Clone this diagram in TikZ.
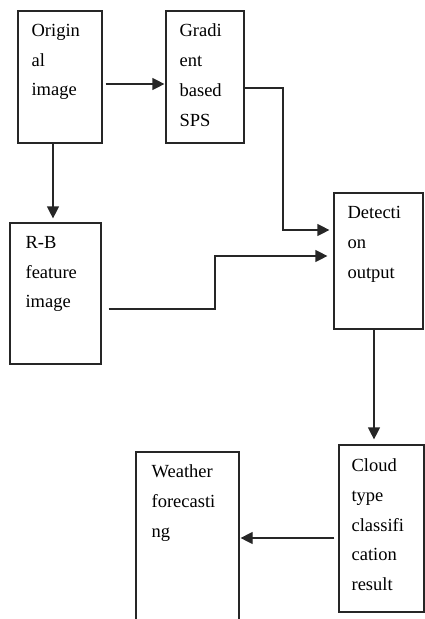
\documentclass[tikz,border=0pt]{standalone}
\usepackage{fontspec}
\setmainfont{Liberation Serif}
\usetikzlibrary{arrows.meta,calc}
\begin{document}
\begin{tikzpicture}[x=1pt,y=-1pt,
  box/.style={draw=black!85,line width=1.2pt,rectangle,inner sep=0pt},
  txt/.style={anchor=north west,inner sep=0pt,align=left,
    font=\fontsize{18.5}{29.8}\selectfont},
  conn/.style={draw=black!85,line width=1.2pt},
  arr/.style={conn,-{Triangle[length=12pt,width=12pt]}}]
\useasboundingbox (0,0) rectangle (425,619);
\begin{scope}
\clip (0,0) rectangle (425,619);
% boxes (centre and size in picture units)
\node[box,minimum width=84pt,minimum height=132pt] (orig) at (60,77) {};
\node[box,minimum width=78pt,minimum height=132pt] (grad) at (205,77) {};
\node[box,minimum width=91pt,minimum height=141pt] (rb) at (55.5,293.5) {};
\node[box,minimum width=89pt,minimum height=136pt] (det) at (378.5,261) {};
\node[box,minimum width=85pt,minimum height=167pt] (cloud) at (381.5,528.5) {};
\node[box,minimum width=103pt,minimum height=190pt] (wf) at (187.5,547) {};
\end{scope}
% labels
\node[txt] (origT) at ([shift={(14,13.5)}]orig.north west) {Origin\\al\\image};
\node[txt] (gradT) at ([shift={(14,13.5)}]grad.north west) {Gradi\\ent\\based\\SPS};
\node[txt] (rbT) at ([shift={(16,13.5)}]rb.north west) {R-B\\feature\\image};
\node[txt] (detT) at ([shift={(14,14)}]det.north west) {Detecti\\on\\output};
\node[txt] (cloudT) at ([shift={(13,14)}]cloud.north west) {Cloud\\type\\classifi\\cation\\result};
\node[txt] (wfT) at ([shift={(16,13.5)}]wf.north west) {Weather\\forecasti\\ng};
% connectors
\draw[arr,shorten <=3pt,shorten >=1pt] (orig.east |- 0,84) -- (grad.west |- 0,84);
\draw[arr,shorten >=4pt] (orig.south -| 53,0) -- (rb.north -| 53,0);
\draw[arr,shorten >=4pt] (grad.east |- 0,88) -| (283,230) -- (det.west |- 0,230);
\draw[arr,shorten <=7pt,shorten >=6pt] (rb.east |- 0,309) -| (215,256) -- (det.west |- 0,256);
\draw[arr,shorten >=5pt] (det.south -| 374,0) -- (cloud.north -| 374,0);
\draw[arr,shorten <=4pt,shorten >=1pt] (cloud.west |- 0,538) -- (wf.east |- 0,538);
\end{tikzpicture}
\end{document}
